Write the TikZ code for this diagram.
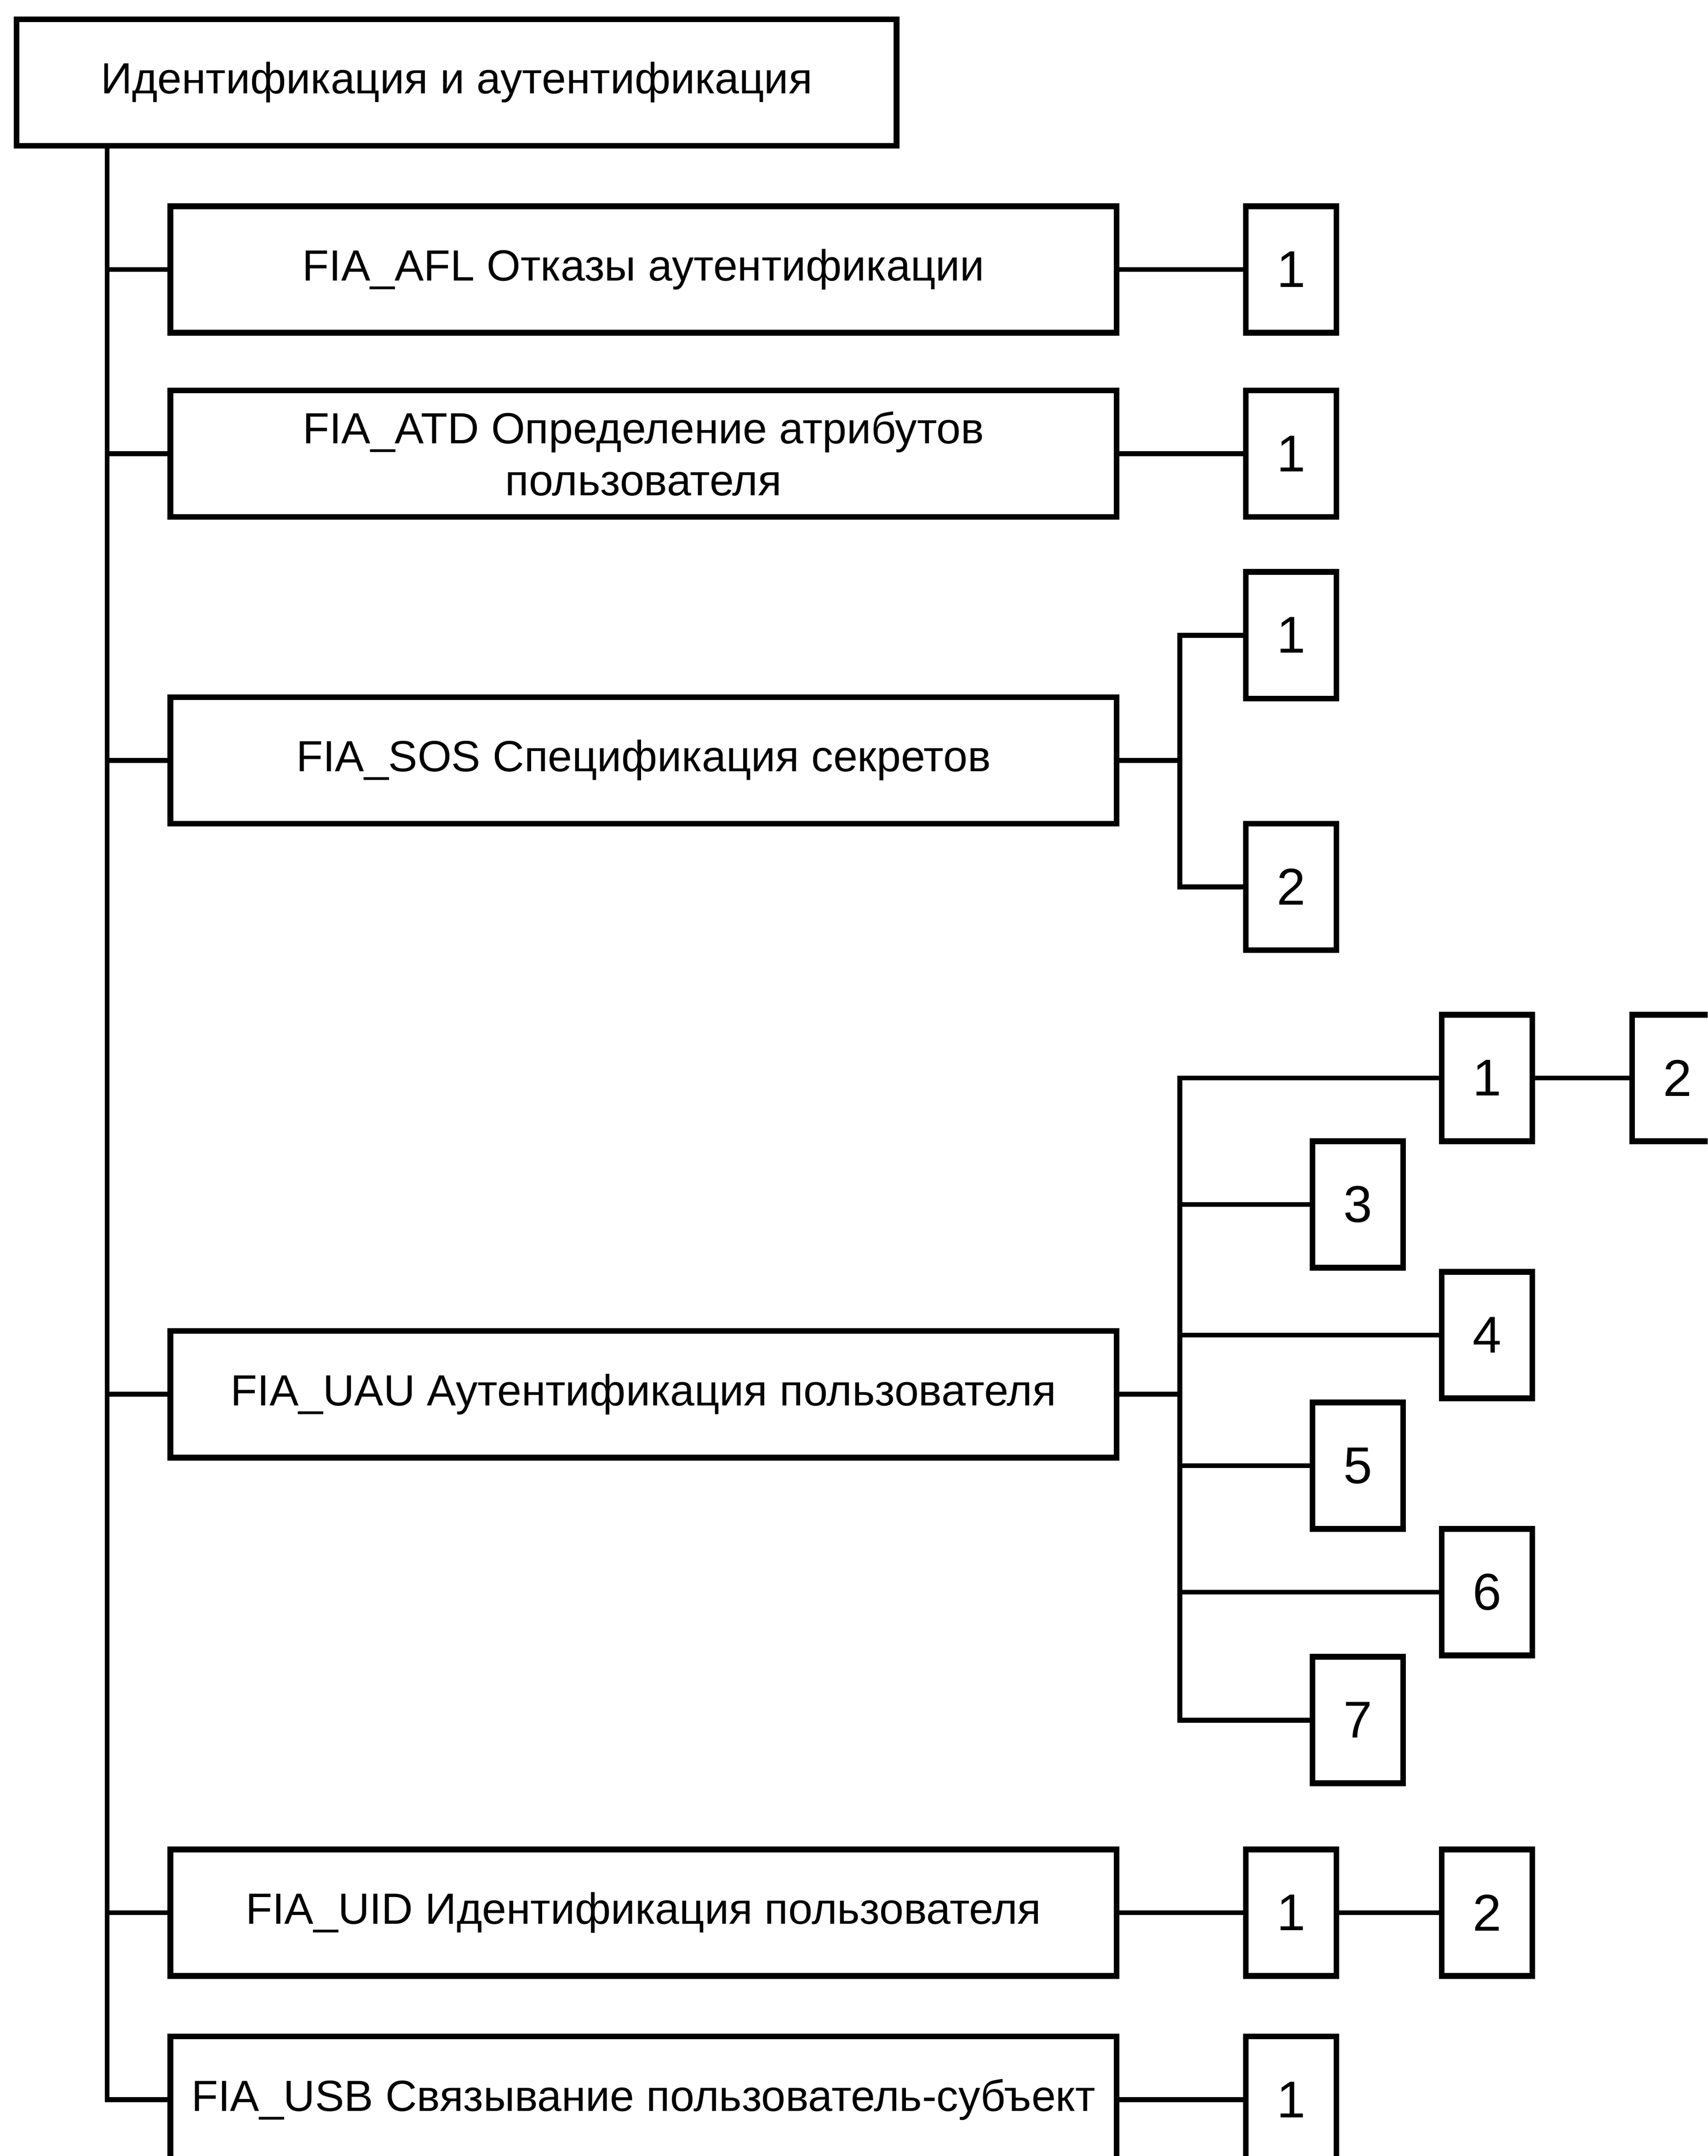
\documentclass[tikz,border=0pt]{standalone}
\usepackage{fontspec}
\setmainfont{Liberation Sans}
\begin{document}
\begin{tikzpicture}[x=0.029895cm, y=-0.029895cm,
  box/.style={draw, line width=3.6pt, minimum height=2.75cm, inner sep=0pt, align=center,
    font=\fontsize{27}{32}\selectfont},
  mainbox/.style={box, minimum width=20.57cm},
  numbox/.style={draw, line width=3.6pt, minimum width=1.97cm, minimum height=2.75cm,
    inner sep=0pt, font=\fontsize{32}{36}\selectfont},
  conn/.style={line width=3pt}]
\useasboundingbox (0,0) rectangle (1242,1568);
\clip (0,0) rectangle (1242,1568);
% main boxes
\node[box, minimum width=19.13cm] (root) at (332,60) {Идентификация и аутентификация};
\node[mainbox] (afl) at (468,196) {FIA\_AFL Отказы аутентификации};
\node[mainbox] (atd) at (468,330) {FIA\_ATD Определение атрибутов\\пользователя};
\node[mainbox] (sos) at (468,553) {FIA\_SOS Спецификация секретов};
\node[mainbox] (uau) at (468,1014) {FIA\_UAU Аутентификация пользователя};
\node[mainbox] (uid) at (468,1391) {FIA\_UID Идентификация пользователя};
\node[mainbox] (usb) at (468,1527) {FIA\_USB Связывание пользователь-субъект};
% number boxes
\node[numbox] (afl1) at (939,196) {1};
\node[numbox] (atd1) at (939,330) {1};
\node[numbox] (sos1) at (939,462) {1};
\node[numbox] (sos2) at (939,645) {2};
\node[numbox] (uau1) at (1081.5,784) {1};
\node[numbox] (uau12) at (1220,784) {2};
\node[numbox] (uau3) at (987.5,876) {3};
\node[numbox] (uau4) at (1081.5,971) {4};
\node[numbox] (uau5) at (987.5,1066) {5};
\node[numbox] (uau6) at (1081.5,1158) {6};
\node[numbox] (uau7) at (987.5,1251) {7};
\node[numbox] (uid1) at (939,1391) {1};
\node[numbox] (uid2) at (1081.5,1391) {2};
\node[numbox] (usb1) at (939,1527) {1};
% trunk
\coordinate (tr) at (78,0);
\draw[conn] (root.south -| tr) -- (tr |- usb.west) -- (usb.west);
\foreach \n in {afl,atd,sos,uau,uid} \draw[conn] (tr |- \n.west) -- (\n.west);
% simple links
\draw[conn] (afl.east) -- (afl1.west);
\draw[conn] (atd.east) -- (atd1.west);
\draw[conn] (uid.east) -- (uid1.west);
\draw[conn] (uid1.east) -- (uid2.west);
\draw[conn] (usb.east) -- (usb1.west);
% SOS branch
\coordinate (bs) at (858,0);
\draw[conn] (sos.east) -- (bs |- sos.east);
\draw[conn] (sos1.west) -| (bs |- sos2.west) -- (sos2.west);
% UAU branch
\draw[conn] (uau.east) -- (bs |- uau.east);
\draw[conn] (uau1.west) -| (bs |- uau7.west) -- (uau7.west);
\foreach \n in {uau3,uau4,uau5,uau6} \draw[conn] (bs |- \n.west) -- (\n.west);
\draw[conn] (uau1.east) -- (uau12.west);
\end{tikzpicture}
\end{document}
